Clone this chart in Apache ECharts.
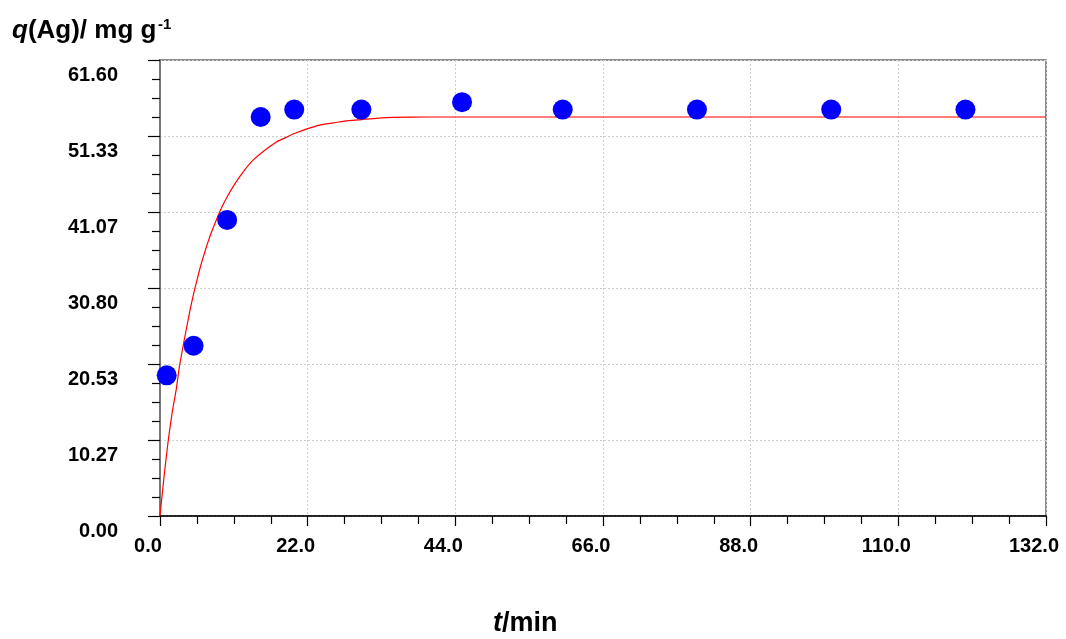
<!DOCTYPE html>
<html><head><meta charset="utf-8">
<script src="https://cdn.jsdelivr.net/npm/echarts@6/dist/echarts.min.js"></script>
<style>html,body{margin:0;padding:0;background:#fff}#c{width:1066px;height:639px}</style>
</head><body><div id="c"></div>
<script>
// measured points
const scatterT = [1, 5, 10, 15, 20, 30, 45, 60, 80, 100, 120];
const scatterQ = [19.0, 23.0, 40.0, 53.9, 54.9, 54.9, 55.9, 54.9, 54.9, 54.9, 54.9];
// fitted curve
const fitT = [0, 0.6, 1.24, 1.8, 2.4, 2.9, 3.47, 4.0, 4.47, 5.0, 5.46, 6.0, 6.45, 7.0, 7.45, 8.0, 8.44, 9.2, 9.93, 11.1, 12.4, 13.9, 15.9, 17.3, 18.9, 20.4, 21.9, 23.8, 25.8, 27.5, 30.0, 32.5, 34.8, 40.0, 132];
const fitQ = [0, 5.3, 10.3, 13.9, 17.0, 20.2, 23.1, 25.6, 27.8, 30.0, 31.7, 33.6, 35.0, 36.6, 37.8, 39.1, 40.1, 41.7, 43.0, 44.8, 46.5, 48.1, 49.6, 50.5, 51.2, 51.8, 52.3, 52.8, 53.1, 53.35, 53.55, 53.75, 53.85, 53.9, 53.9];
// axis ticks
const xTicks = [0, 22, 44, 66, 88, 110, 132];
const yTicks = [0.00, 10.27, 20.53, 30.80, 41.07, 51.33, 61.60];

const FONT = '"Liberation Sans", Arial, sans-serif';
const chart = echarts.init(document.getElementById('c'), null, {renderer: 'canvas'});
const yInterval = yTicks[yTicks.length - 1] / (yTicks.length - 1);

chart.setOption({
  animation: false,
  backgroundColor: '#fff',
  grid: {left: 160, right: 20, top: 60, bottom: 123, show: true, borderColor: '#666', borderWidth: 1.5, backgroundColor: 'transparent'},
  xAxis: {
    type: 'value', min: xTicks[0], max: xTicks[xTicks.length - 1], interval: xTicks[1] - xTicks[0],
    axisLine: {show: true, onZero: false, lineStyle: {color: '#000', width: 1.5}},
    axisTick: {show: true, length: 10, lineStyle: {color: '#000', width: 1.2}},
    minorTick: {show: true, splitNumber: 4, length: 8, lineStyle: {color: '#000', width: 1.2}},
    splitLine: {show: true, lineStyle: {color: '#cfcfcf', type: [2, 2], width: 1}},
    axisLabel: {margin: 20, color: '#000', fontSize: 20, fontWeight: 'bold', fontFamily: FONT,
      formatter: v => '{a|' + v.toFixed(1) + '}',
      rich: {a: {padding: [0, 24, 0, 0], color: '#000', fontSize: 20, fontWeight: 'bold', fontFamily: FONT}}}
  },
  yAxis: {
    type: 'value', min: yTicks[0], max: yTicks[yTicks.length - 1], interval: yInterval,
    axisLine: {show: true, onZero: false, lineStyle: {color: '#777', width: 2}},
    axisTick: {show: true, length: 12, lineStyle: {color: '#000', width: 1.2}},
    minorTick: {show: true, splitNumber: 4, length: 8, lineStyle: {color: '#000', width: 1.2}},
    splitLine: {show: true, lineStyle: {color: '#cfcfcf', type: [2, 2], width: 1}},
    axisLabel: {margin: 42, color: '#000', fontSize: 20, fontWeight: 'bold', fontFamily: FONT,
      formatter: v => {
        let best = yTicks[0];
        yTicks.forEach(t => { if (Math.abs(t - v) < Math.abs(best - v)) best = t; });
        return '{a|' + best.toFixed(2) + '}';
      },
      rich: {a: {padding: [30, 0, 0, 0], color: '#000', fontSize: 20, fontWeight: 'bold', fontFamily: FONT}}}
  },
  series: [
    {
      type: 'line', data: fitT.map((t, i) => [t, fitQ[i]]), showSymbol: false, smooth: 0.2,
      lineStyle: {color: '#ff0000', width: 1.2}, z: 2, silent: true
    },
    {
      type: 'scatter', data: scatterT.map((t, i) => [t, scatterQ[i]]), symbol: 'circle', symbolSize: 20,
      itemStyle: {color: '#0000ff', opacity: 1}, z: 3
    }
  ],
  graphic: [
    {type: 'text', left: 12, top: 18, style: {
      text: '{i|q}{b|(Ag)/ mg g}', fill: '#000',
      rich: {
        i: {fontSize: 26, fontWeight: 'bold', fontStyle: 'italic', fontFamily: FONT, fill: '#000'},
        b: {fontSize: 26, fontWeight: 'bold', fontFamily: FONT, fill: '#000'}
      }}},
    {type: 'text', left: 158, top: 17, style: {text: '-1', fontSize: 15, fontWeight: 'bold', fontFamily: FONT, fill: '#000'}},
    {type: 'text', left: 493, top: 610, style: {
      text: '{i|t}{b|/min}', fill: '#000',
      rich: {
        i: {fontSize: 27, fontWeight: 'bold', fontStyle: 'italic', fontFamily: FONT, fill: '#000'},
        b: {fontSize: 27, fontWeight: 'bold', fontFamily: FONT, fill: '#000'}
      }}}
  ]
});
</script>
</body></html>
